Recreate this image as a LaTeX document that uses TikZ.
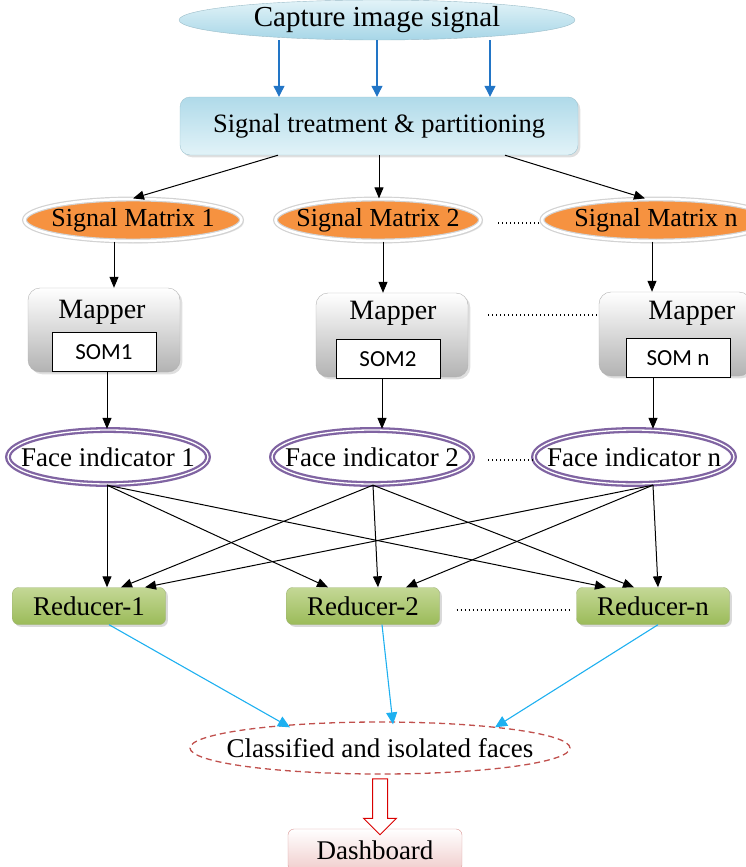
\documentclass[tikz,border=0pt]{standalone}
\usepackage{fontspec}
\setmainfont{Liberation Serif}
\newfontfamily\boxfont{Liberation Serif}
\newfontfamily\somfont{Carlito}
\usetikzlibrary{
	arrows.meta,
	shapes.geometric,
	shapes.arrows,
	shadows
}
\definecolor{CapBlue}{RGB}{167,214,231}
\definecolor{PaleBlue}{RGB}{226,243,248}
\definecolor{ArrowBlue}{RGB}{34,117,198}
\definecolor{SkyCyan}{RGB}{30,176,240}
\definecolor{MatOrange}{RGB}{246,146,64}
\definecolor{FacePurple}{RGB}{128,100,162}
\definecolor{LeafGreen}{RGB}{155,187,89}
\definecolor{PaleGreen}{RGB}{196,216,150}
\definecolor{DarkGreen}{RGB}{118,146,60}
\definecolor{DashRed}{RGB}{192,80,77}
\definecolor{PalePink}{RGB}{240,205,204}
\newcommand{\setfs}[1]{\boxfont\fontsize{#1}{#1}\selectfont}

\begin{document}
\begin{tikzpicture}[x=1pt, y=-1pt,
	arr/.style={-{Triangle[length=11pt,width=9pt]}, line width=1pt},
	bluearr/.style={-{Triangle[length=11pt,width=11pt]}, ArrowBlue, line width=1.2pt},
	cyanarr/.style={-{Triangle[length=12pt,width=11pt]}, SkyCyan, line width=1.1pt},
	dots/.style={line width=1.2pt, dash pattern=on 1.2pt off 2.8pt},
	capture/.style={ellipse, draw=CapBlue!70!gray, top color=PaleBlue, bottom color=CapBlue, minimum width=396pt, minimum height=40pt, inner sep=0pt, font=\setfs{29}},
	treat/.style={rectangle, rounded corners=10pt, draw=CapBlue!80!gray, top color=CapBlue!90, bottom color=PaleBlue, minimum width=398pt, minimum height=58pt, font=\setfs{26.5}, drop shadow={opacity=0.25}},
	sigmat/.style={ellipse, fill=MatOrange, draw=gray!35, line width=1.2pt, double=white, double distance=2.5pt, minimum width=#1, minimum height=42pt, inner xsep=-10pt, inner ysep=0pt, font=\setfs{26}, drop shadow={opacity=0.2}},
	sigmat/.default=217pt,
	mapper/.style={rectangle, rounded corners=12pt, draw=gray!60, top color=white, bottom color=gray!60, minimum width=152pt, minimum height=84pt, drop shadow={opacity=0.25}},
	maptext/.style={font=\setfs{28}},
	som/.style={rectangle, draw=black, line width=0.8pt, fill=white, minimum width=104pt, minimum height=39pt, font=\somfont\fontsize{23}{23}\selectfont},
	face/.style={ellipse, draw=FacePurple, fill=white, line width=2.3pt, double=white, double distance=1.3pt, minimum width=200pt, minimum height=54pt, inner xsep=-20pt, inner ysep=0pt, font=\setfs{27}},
	reducer/.style={rectangle, rounded corners=6pt, draw=DarkGreen!70, top color=PaleGreen, bottom color=LeafGreen, minimum width=153pt, minimum height=37pt, font=\setfs{27}, drop shadow={opacity=0.3}},
	classy/.style={ellipse, draw=DashRed, line width=1.3pt, dash pattern=on 6pt off 4pt, minimum width=380pt, minimum height=52pt, inner xsep=-25pt, inner ysep=0pt, font=\setfs{27}},
	hollow/.style={single arrow, draw=red!85!black, fill=white, line width=1pt, shape border rotate=270, minimum height=56pt, minimum width=32pt, single arrow head extend=9pt, inner sep=7pt},
	board/.style={rectangle, rounded corners=6pt, draw=DashRed!60, top color=white, bottom color=PalePink, minimum width=174pt, minimum height=42pt, font=\setfs{27}}
]
	\useasboundingbox (0,0) rectangle (745,867);

	\node[capture] (cap) at (377,20) {Capture image signal};
	\node[treat] (treat) at (379,126) {Signal treatment \& partitioning};

	\node[sigmat] (sm1) at (133,220) {Signal Matrix 1};
	\node[sigmat=205pt] (sm2) at (378,220) {Signal Matrix 2};
	\node[sigmat=228pt] (smn) at (656,220) {Signal Matrix n};

	\node[mapper] (map1) at (104,330) {};
	\node[mapper] (map2) at (392,335) {};
	\node[mapper] (mapn) at (675,334) {};
	\node[maptext] (map1txt) at (102,312) {Mapper};
	\node[maptext] (map2txt) at (393,313) {Mapper};
	\node[maptext] (mapntxt) at (692,313) {Mapper};
	\node[som] (som1) at (104,352) {SOM1};
	\node[som] (som2) at (388,359) {SOM2};
	\node[som] (somn) at (678,358) {SOM n};

	\node[face] (fi1) at (108,457) {Face indicator 1};
	\node[face] (fi2) at (372,457) {Face indicator 2};
	\node[face] (fin) at (634,457) {Face indicator n};

	\node[reducer] (r1) at (89,606) {Reducer-1};
	\node[reducer] (r2) at (363,606) {Reducer-2};
	\node[reducer] (rn) at (653,606) {Reducer-n};

	\node[classy] (cls) at (380,748) {Classified and isolated faces};
	\node[board] (board) at (375,850) {Dashboard};
	\node[hollow] (down) at (380,803) {};

	% capture -> treatment
	\draw[bluearr] ([xshift=-98pt]cap.south) -- ([xshift=-98pt]cap.south |- treat.north);
	\draw[bluearr] (cap.south) -- (cap.south |- treat.north);
	\draw[bluearr] ([xshift=113pt]cap.south) -- ([xshift=113pt]cap.south |- treat.north);

	\draw[arr] ([xshift=-101pt]treat.south) -- (sm1.north);
	\draw[arr] (treat.south) -- (treat.south |- sm2.north);
	\draw[arr] ([xshift=126pt]treat.south) -- ([xshift=-11pt]smn.north);

	\draw[arr] ([xshift=-19pt]sm1.south) -- ([xshift=-19pt]sm1.south |- map1.north);
	\draw[arr] ([xshift=5pt]sm2.south) -- ([xshift=5pt]sm2.south |- map2.north);
	\draw[arr] ([xshift=-4pt]smn.south) -- ([xshift=-4pt]smn.south |- mapn.north);

	\draw[arr] ([xshift=3pt]som1.south) -- ([xshift=3pt]som1.south |- fi1.north);
	\draw[arr] ([xshift=-6pt]som2.south) -- ([xshift=-6pt]som2.south |- fi2.north);
	\draw[arr] ([xshift=-25pt]somn.south) -- ([xshift=-25pt]somn.south |- fin.north);

	% every face indicator feeds every reducer
	\coordinate (f1) at ([xshift=-1pt]fi1.south);
	\coordinate (f2) at ([xshift=1pt]fi2.south);
	\coordinate (fn) at ([xshift=19pt]fin.south);
	\foreach \src/\dst/\dx in {f1/r1/18, f1/r2/-35, f1/rn/-47, f2/r1/32, f2/r2/15, f2/rn/-19, fn/r1/56, fn/r2/43, fn/rn/5}
		\draw[arr] (\src) -- ([xshift=\dx pt]\dst.north);

	\draw[cyanarr] ([xshift=20pt]r1.south) -- ([xshift=-90pt,yshift=-6pt]cls.north);
	\draw[cyanarr] ([xshift=19pt]r2.south) -- ([xshift=13pt,yshift=-3pt]cls.north);
	\draw[cyanarr] ([xshift=5pt]rn.south) -- ([xshift=115pt,yshift=-6pt]cls.north);

	\draw[dots] ([xshift=17pt,yshift=-3pt]sm2.east) -- ([yshift=-3pt]smn.west);
	\draw[dots] ([xshift=20pt,yshift=20pt]map2.east) -- ([yshift=19pt]mapn.west);
	\draw[dots] ([xshift=15pt,yshift=-3pt]fi2.east) -- ([yshift=-3pt]fin.west);
	\draw[dots] ([xshift=17pt,yshift=-4pt]r2.east) -- ([xshift=-7pt,yshift=-4pt]rn.west);
\end{tikzpicture}
\end{document}
